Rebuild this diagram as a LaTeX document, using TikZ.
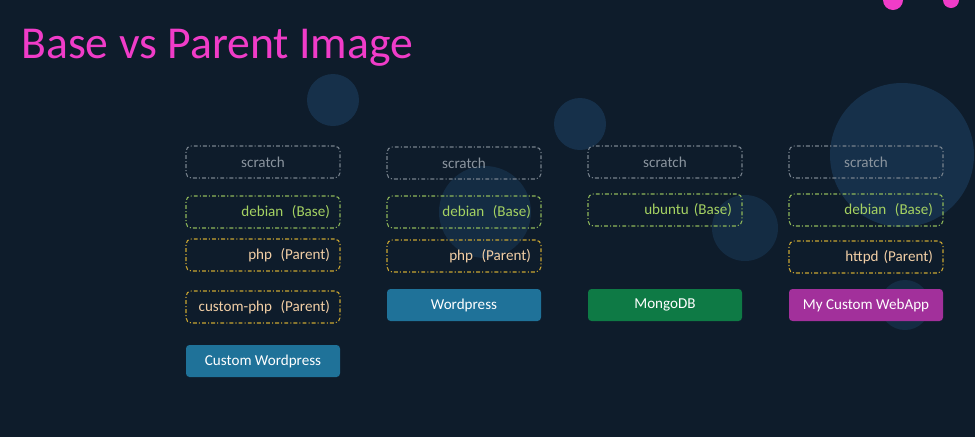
\documentclass[tikz,border=0pt]{standalone}
\usepackage{fontspec}
\setmainfont{Carlito}
\usepackage{tikz}
\usetikzlibrary{positioning}

\definecolor{bgnavy}{HTML}{0E1C2B}
\definecolor{bubble}{HTML}{16304A}
\definecolor{titlepink}{HTML}{F03CC8}
\definecolor{scratchgray}{HTML}{8A949E}
\definecolor{basegreen}{HTML}{A5D262}
\definecolor{parentgold}{HTML}{C9A532}
\definecolor{parenttext}{HTML}{F2CFA6}
\definecolor{wpblue}{HTML}{1F7299}
\definecolor{mongogreen}{HTML}{0E7A45}
\definecolor{apppurple}{HTML}{A2309B}

\begin{document}
\begin{tikzpicture}[
            x = 0.02cm, y = -0.02cm, % pixel grid
            font = \fontsize{8.6}{10}\selectfont,
            inner sep = 0pt
        ]

        \tikzstyle{layer}=[
            rounded corners = 3pt,
            minimum width = 154*0.02cm,
            minimum height = 32*0.02cm,
            text width = 134*0.02cm,
            line width = 0.6pt,
            dash pattern = on 2.2pt off 1.2pt on 0.6pt off 1.2pt
        ]
        \tikzstyle{scratchbox}=[layer, draw = scratchgray!85!bgnavy, text = scratchgray, align = center]
        \tikzstyle{basebox}=[layer, draw = basegreen!85!bgnavy, text = basegreen, align = right]
        \tikzstyle{parentbox}=[layer, draw = parentgold, text = parenttext, align = right]
        \tikzstyle{appbox}=[
            rounded corners = 2pt,
            minimum width = 154*0.02cm,
            minimum height = 32*0.02cm,
            text = white,
            align = center
        ]

	% background and bubbles
	\fill[bgnavy] (0,0) rectangle (975,437);
	\useasboundingbox (0,0) rectangle (975,437);
	\fill[bubble] (333,100) circle (26);
	\fill[bubble] (580,124) circle (26);
	\fill[bubble] (902,155) circle (72);
	\fill[bubble, opacity=0.8] (485,212) circle (46);
	\fill[bubble, opacity=0.8] (745,228) circle (33);
	\fill[bubble, opacity=0.8] (905,305) circle (25);
	\fill[titlepink] (893,0) circle (10);
	\fill[titlepink] (951,0) circle (8);

	\node[anchor=base west, text=titlepink, font=\fontsize{26}{30}\selectfont] (title) at (21,58) {Base vs Parent Image};

	% Custom Wordpress
	\node[scratchbox] (s1) at (263,162) {scratch};
	\node[basebox] (b1) at (263,212) {debian\hspace{2pt} (Base)};
	\node[parentbox] (p1) at (263,255) {php\hspace{2pt} (Parent)};
	\node[parentbox] (c1) at (263,307) {custom-php\hspace{2pt} (Parent)};
	\node[appbox, fill=wpblue] (a1) at (263,361) {Custom Wordpress};

	% Wordpress
	\node[scratchbox] (s2) at (464,163) {scratch};
	\node[basebox] (b2) at (464,212) {debian\hspace{2pt} (Base)};
	\node[parentbox] (p2) at (464,256) {php\hspace{2pt} (Parent)};
	\node[appbox, fill=wpblue] (a2) at (464,305) {Wordpress};

	% MongoDB
	\node[scratchbox] (s3) at (665,162) {scratch};
	\node[basebox] (b3) at (665,210) {ubuntu (Base)};
	\node[appbox, fill=mongogreen] (a3) at (665,305) {MongoDB};

	% My Custom WebApp
	\node[scratchbox] (s4) at (866,162) {scratch};
	\node[basebox] (b4) at (866,210) {debian\hspace{2pt} (Base)};
	\node[parentbox] (p4) at (866,257) {httpd (Parent)};
	\node[appbox, fill=apppurple] (a4) at (866,305) {My Custom WebApp};

    \end{tikzpicture}
\end{document}
